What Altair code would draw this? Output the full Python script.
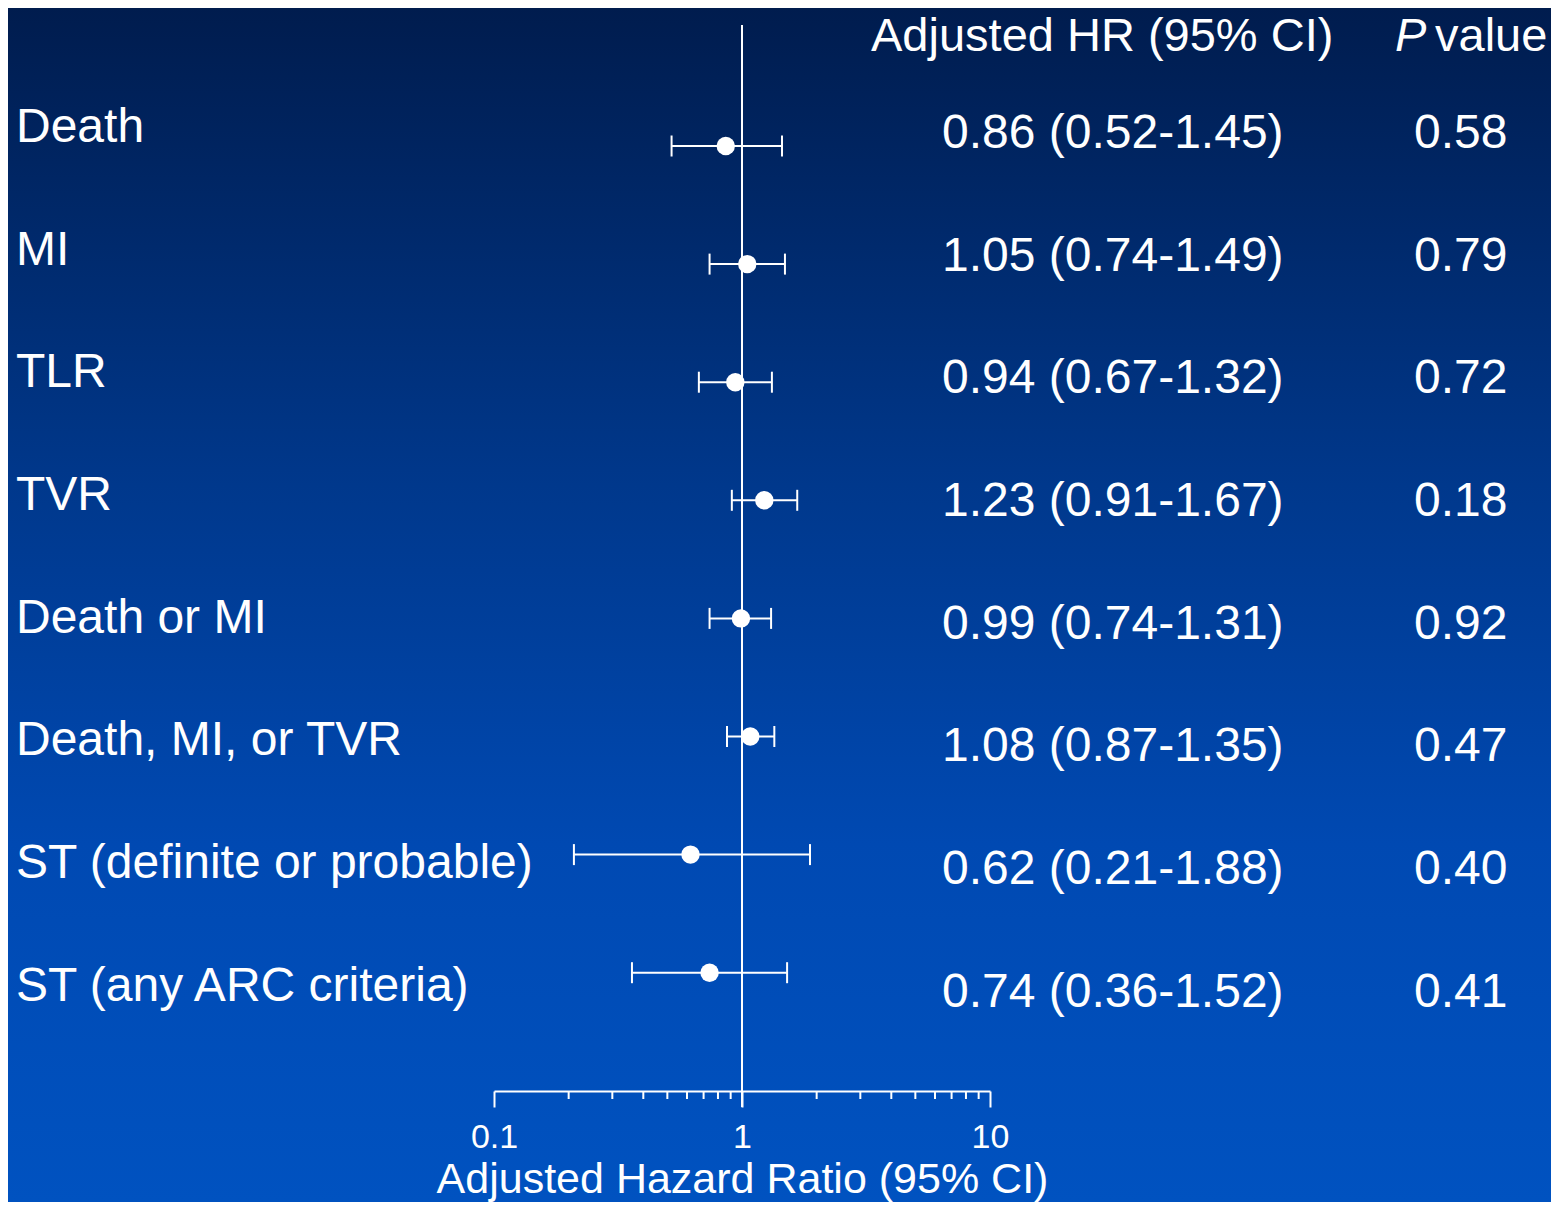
import altair as alt
import pandas as pd

# ---- data ----
outcomes = ["Death", "MI", "TLR", "TVR", "Death or MI", "Death, MI, or TVR",
            "ST (definite or probable)", "ST (any ARC criteria)"]
hr = [0.86, 1.05, 0.94, 1.23, 0.99, 1.08, 0.62, 0.74]
ci_low = [0.52, 0.74, 0.67, 0.91, 0.74, 0.87, 0.21, 0.36]
ci_high = [1.45, 1.49, 1.32, 1.67, 1.31, 1.35, 1.88, 1.52]
p_values = ["0.58", "0.79", "0.72", "0.18", "0.92", "0.47", "0.40", "0.41"]
major_ticks = [0.1, 1, 10]
minor_ticks = [0.2, 0.3, 0.4, 0.5, 0.6, 0.7, 0.8, 0.9, 2, 3, 4, 5, 6, 7, 8, 9]
x_title = "Adjusted Hazard Ratio (95% CI)"
header_hr = "Adjusted HR (95% CI)"

df = pd.DataFrame({
    "row": list(range(len(outcomes))),
    "label": outcomes,
    "hr": hr,
    "lo": ci_low,
    "hi": ci_high,
    "p": p_values,
})
df["hr_text"] = [f"{h:.2f} ({l:.2f}-{u:.2f})" for h, l, u in zip(hr, ci_low, ci_high)]
minor_df = pd.DataFrame({"v": minor_ticks})
one = pd.DataFrame({"k": [0]})

FONT = "Liberation Sans"
W, H = 496, 1066
PAD = {"left": 486, "top": 17, "right": 561, "bottom": 111}

xs = alt.Scale(type="log", domain=[0.1, 10], nice=False)
xaxis = alt.Axis(values=major_ticks, format="~g", tickSize=16, tickWidth=2,
                 tickColor="white", domainColor="white", domainWidth=2,
                 labelColor="white", labelFont=FONT, labelFontSize=34,
                 labelPadding=13, labelFlush=False, labelOverlap=False,
                 grid=False, title=x_title, titleFont=FONT, titleFontSize=43,
                 titleFontWeight="normal", titleColor="white",
                 titleBaseline="alphabetic", titleY=101, zindex=1)

pt_scale = alt.Scale(domain=[-1.0246, 8.0017], reverse=True, nice=False, zero=False)
tx_scale = alt.Scale(domain=[-0.8394, 7.8484], reverse=True, nice=False, zero=False)

bg = alt.Chart(one).mark_rect(
    fill=alt.Gradient(gradient="linear",
                      stops=[alt.GradientStop(color="#001c4e", offset=0),
                             alt.GradientStop(color="#00388c", offset=0.4),
                             alt.GradientStop(color="#0049b2", offset=0.7),
                             alt.GradientStop(color="#0052c0", offset=1)],
                      x1=0, x2=0, y1=0, y2=1)
).encode(x=alt.value(-PAD["left"]), x2=alt.value(W + PAD["right"]),
         y=alt.value(-PAD["top"]), y2=alt.value(H + PAD["bottom"]))

base = alt.Chart(df)
Ypt = alt.Y("row:Q", scale=pt_scale, axis=None)
Ytx = alt.Y("row:Q", scale=tx_scale, axis=None)

ref = alt.Chart(one).mark_rule(color="white", strokeWidth=2).encode(
    x=alt.X(datum=1, scale=xs, axis=xaxis), y=alt.value(0), y2=alt.value(H + 16))

minor = alt.Chart(minor_df).mark_rule(color="white", strokeWidth=2).encode(
    x=alt.X("v:Q", scale=xs, axis=xaxis), y=alt.value(H), y2=alt.value(H + 8))

whisk = base.mark_rule(color="white", strokeWidth=2).encode(
    x=alt.X("lo:Q", scale=xs, axis=xaxis), x2="hi:Q", y=Ypt)
cap_lo = base.mark_tick(color="white", orient="vertical", size=21, thickness=2, opacity=1).encode(
    x=alt.X("lo:Q", scale=xs, axis=xaxis), y=Ypt)
cap_hi = base.mark_tick(color="white", orient="vertical", size=21, thickness=2, opacity=1).encode(
    x=alt.X("hi:Q", scale=xs, axis=xaxis), y=Ypt)
pts = base.mark_circle(color="white", size=340, opacity=1).encode(
    x=alt.X("hr:Q", scale=xs, axis=xaxis), y=Ypt)

txt = dict(font=FONT, fontSize=48, color="white", baseline="middle", align="left")
labels = base.mark_text(**txt).encode(x=alt.value(-478), y=Ytx, text="label:N")
hr_col = base.mark_text(dy=6, **txt).encode(x=alt.value(448), y=Ytx, text="hr_text:N")
p_col = base.mark_text(dy=6, **txt).encode(x=alt.value(920), y=Ytx, text="p:N")

htxt = dict(font=FONT, fontSize=47, color="white", baseline="middle", align="left")
hdr1 = alt.Chart(one).mark_text(**htxt).encode(
    x=alt.value(377), y=alt.value(12), text=alt.value(header_hr))
hdr2 = alt.Chart(one).mark_text(fontStyle="italic", **htxt).encode(
    x=alt.value(901), y=alt.value(12), text=alt.value("P"))
hdr3 = alt.Chart(one).mark_text(**htxt).encode(
    x=alt.value(941), y=alt.value(12), text=alt.value("value"))

chart = alt.layer(
    bg, ref, minor, whisk, cap_lo, cap_hi, pts, labels, hr_col, p_col, hdr1, hdr2, hdr3
).resolve_scale(y="independent").properties(
    width=W, height=H, autosize=alt.AutoSizeParams(type="none"), padding=PAD,
    background="#001c4e"
).configure_view(stroke=None)

chart.save("out.html", embed_options={"renderer": "svg", "actions": False})
